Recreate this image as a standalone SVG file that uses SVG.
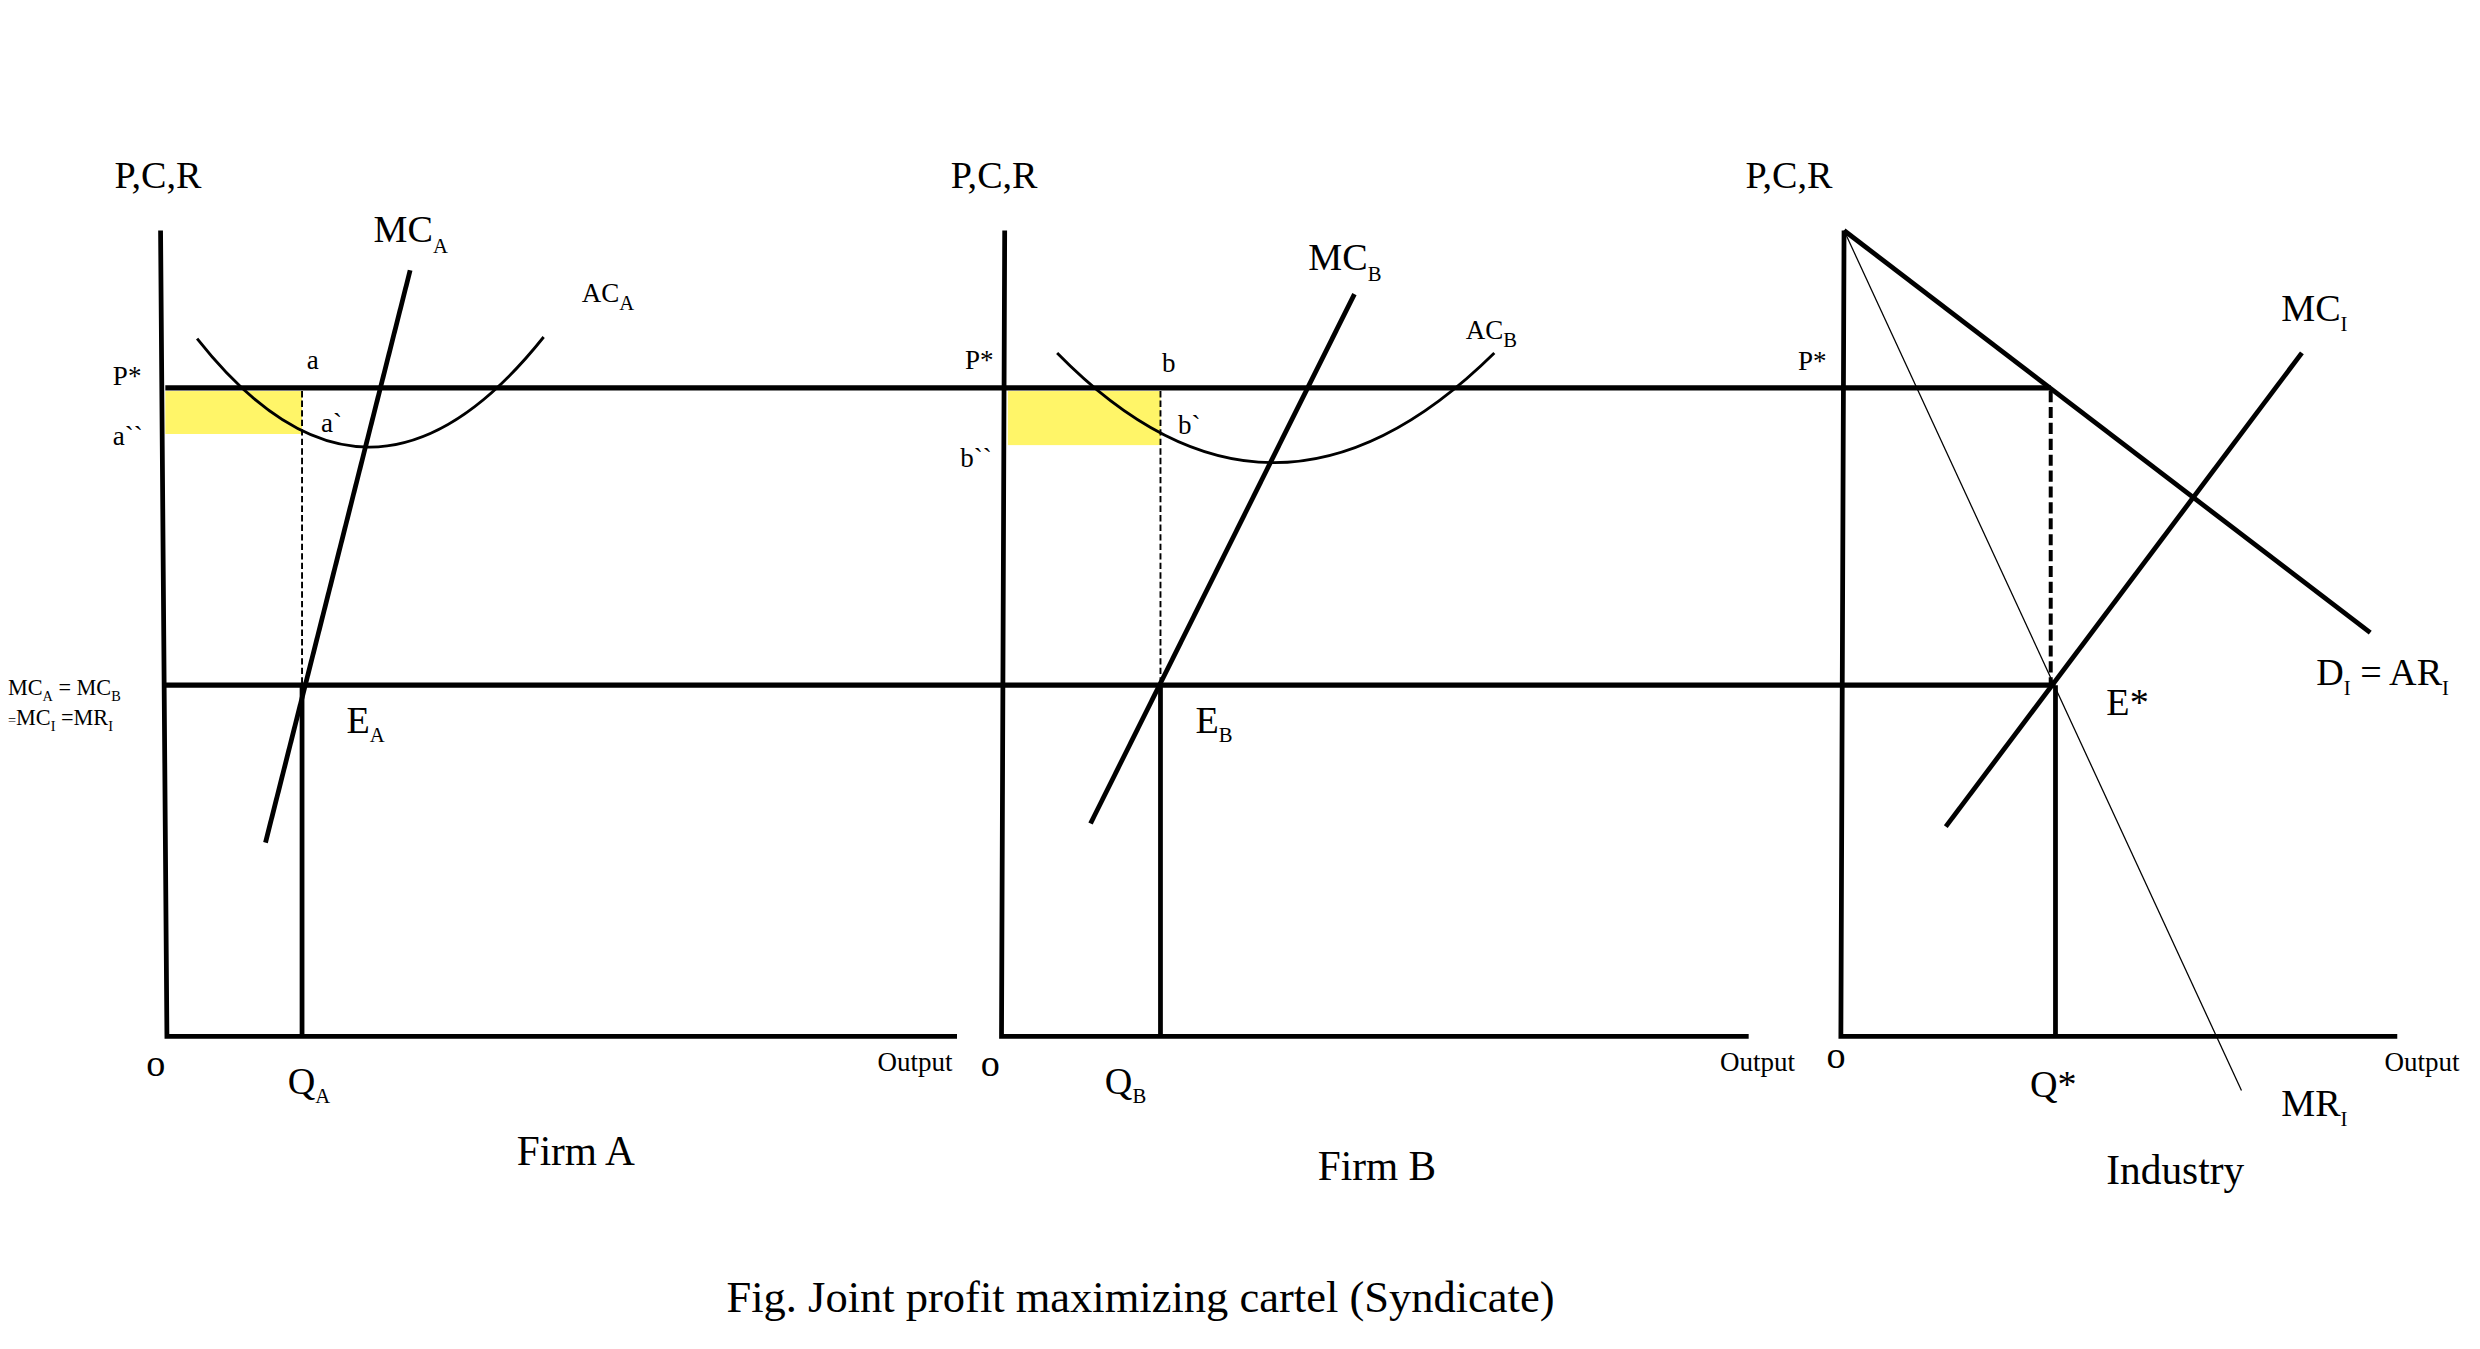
<svg xmlns="http://www.w3.org/2000/svg" width="2480" height="1349" viewBox="0 0 2480 1349">
<style>
text{font-family:"Liberation Serif","Times New Roman",serif;fill:#000}
.ax{stroke:#000;stroke-width:3;fill:none}
.th{stroke:#000;stroke-width:3.2;fill:none}
.cv{stroke:#000;stroke-width:1.8;fill:none}
.ds{stroke:#000;stroke-width:1.2;stroke-dasharray:4 2;fill:none}
.l{font-size:24px}
.s{font-size:17px}
.sub{font-size:13px}
</style>
<rect width="2480" height="1349" fill="#fff"/>
<g transform="scale(1.5897)">
<g id="profit-areas">
<rect x="104" y="246" width="86" height="27" fill="#fff568"/>
<rect x="634" y="246" width="96" height="34" fill="#fff568"/>
</g>
<g id="connectors">
<path class="th" d="M104,244 H1290"/>
<path class="th" d="M104,431 H1293"/>
<path class="ds" d="M190,246 V431"/>
<path class="ax" d="M190,431 V652"/>
<path class="ds" d="M730,246 V431"/>
<path class="ax" d="M730,431 V652"/>
<path d="M1290,246 V431" stroke="#000" stroke-width="2.5" stroke-dasharray="7 3" fill="none"/>
<path class="ax" d="M1293,431 V652"/>
</g>
<g id="firmA">
<path class="ax" d="M101,145 L105,652 H602"/>
<path class="ax" d="M167,530 L258,170"/>
<path class="cv" d="M124,213 Q232,350 342,212"/>
<text class="l" x="72" y="118">P,C,R</text>
<text class="l" x="235" y="152">MC<tspan class="sub" dy="7">A</tspan></text>
<text class="s" x="366" y="190">AC<tspan class="sub" dy="5">A</tspan></text>
<text class="s" x="193" y="232">a</text>
<text class="s" x="202" y="272">a`</text>
<text class="s" x="71" y="242">P*</text>
<text class="s" x="71" y="280">a``</text>
<text font-size="14" x="5" y="437">MC<tspan font-size="9" dy="4">A</tspan><tspan dy="-4"> = MC</tspan><tspan font-size="9" dy="4">B</tspan></text>
<text font-size="14" x="5" y="456"><tspan font-size="9">=</tspan>MC<tspan font-size="9" dy="4">I</tspan><tspan dy="-4"> =MR</tspan><tspan font-size="9" dy="4">I</tspan></text>
<text class="l" x="218" y="461">E<tspan class="sub" dy="6">A</tspan></text>
<text class="l" x="92" y="677">o</text>
<text class="l" x="181" y="688">Q<tspan class="sub" dy="6">A</tspan></text>
<text class="s" x="552" y="674">Output</text>
<text font-size="26" x="325" y="733">Firm A</text>
</g>
<g id="firmB">
<path class="ax" d="M632,145 L630,652 H1100"/>
<path class="ax" d="M686,518 L852,185"/>
<path class="cv" d="M665,222 Q800,360 940,222"/>
<text class="l" x="598" y="118">P,C,R</text>
<text class="l" x="823" y="170">MC<tspan class="sub" dy="7">B</tspan></text>
<text class="s" x="922" y="213">AC<tspan class="sub" dy="5">B</tspan></text>
<text class="s" x="607" y="232">P*</text>
<text class="s" x="731" y="234">b</text>
<text class="s" x="741" y="273">b`</text>
<text class="s" x="604" y="294">b``</text>
<text class="l" x="752" y="461">E<tspan class="sub" dy="6">B</tspan></text>
<text class="l" x="617" y="677">o</text>
<text class="l" x="695" y="688">Q<tspan class="sub" dy="6">B</tspan></text>
<text class="s" x="1082" y="674">Output</text>
<text font-size="26" x="829" y="742">Firm B</text>
</g>
<g id="industry">
<path class="ax" d="M1160,145 L1158,652 H1508"/>
<path class="ax" d="M1160,145 L1491,398"/>
<path d="M1160,145 L1410,686" stroke="#000" stroke-width="0.8" fill="none"/>
<path class="ax" d="M1224,520 L1448,222"/>
<text class="l" x="1098" y="118">P,C,R</text>
<text class="s" x="1131" y="233">P*</text>
<text class="l" x="1435" y="202">MC<tspan class="sub" dy="6">I</tspan></text>
<text class="l" x="1457" y="431">D<tspan class="sub" dy="6">I</tspan><tspan dy="-6"> = AR</tspan><tspan class="sub" dy="6">I</tspan></text>
<text class="l" x="1325" y="450">E*</text>
<text class="l" x="1149" y="672">o</text>
<text class="l" x="1277" y="690">Q*</text>
<text class="s" x="1500" y="674">Output</text>
<text class="l" x="1435" y="702">MR<tspan class="sub" dy="6">I</tspan></text>
<text font-size="26" x="1325" y="745">Industry</text>
</g>
<text font-size="28" x="457" y="825">Fig. Joint profit maximizing cartel (Syndicate)</text>
</g>
</svg>
